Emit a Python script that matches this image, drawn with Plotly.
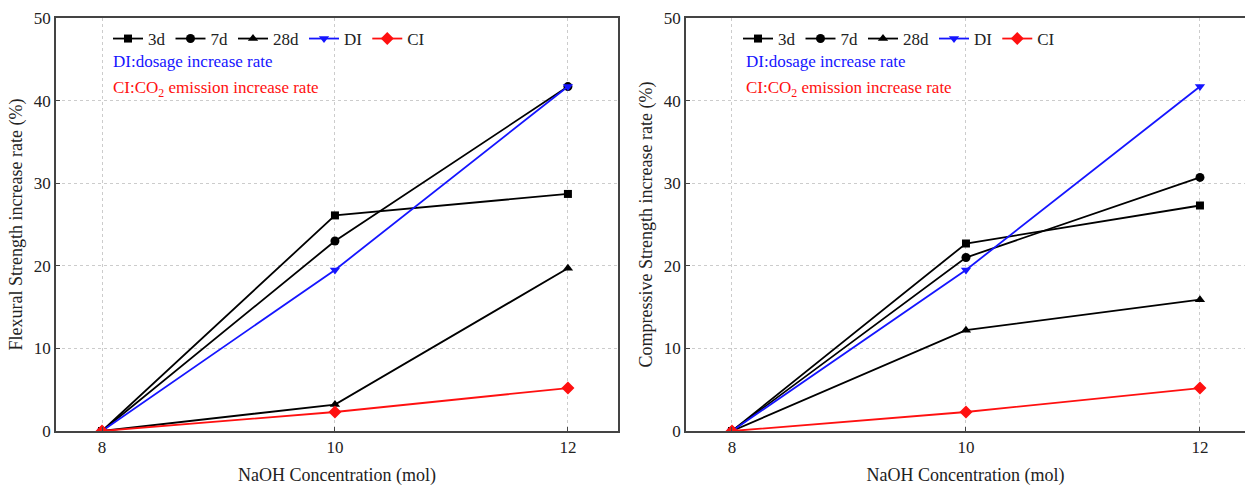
import plotly.graph_objects as go

naoh = [8, 10, 12]
series_names = ["3d", "7d", "28d", "DI", "CI"]

flex_3d = [0, 26.1, 28.7]
flex_7d = [0, 23.0, 41.7]
flex_28d = [0, 3.2, 19.7]
flex_di = [0, 19.5, 41.7]
flex_ci = [0, 2.3, 5.2]

comp_3d = [0, 22.7, 27.3]
comp_7d = [0, 21.0, 30.7]
comp_28d = [0, 12.2, 15.9]
comp_di = [0, 19.5, 41.7]
comp_ci = [0, 2.3, 5.2]

colors = ["black", "black", "black", "#1515ff", "#ff1010"]
symbols = ["square", "circle", "triangle-up", "triangle-down", "diamond"]
msizes = [8, 9, 9, 9, 10]

FONT = "Liberation Serif"

fig = go.Figure()

panels = [
    ("x", "y", "legend", [flex_3d, flex_7d, flex_28d, flex_di, flex_ci]),
    ("x2", "y2", "legend2", [comp_3d, comp_7d, comp_28d, comp_di, comp_ci]),
]
for xa, ya, lg, data in panels:
    for name, vals, c, s, ms in zip(series_names, data, colors, symbols, msizes):
        fig.add_trace(go.Scatter(
            x=naoh, y=vals, name=name, mode="lines+markers",
            line=dict(color=c, width=1.8),
            marker=dict(symbol=s, size=ms, color=c),
            xaxis=xa, yaxis=ya, legend=lg,
        ))

axis_common = dict(
    showline=True, linecolor="#444", linewidth=1.6, mirror=True,
    ticks="inside", ticklen=4, tickcolor="#444",
    showgrid=True, gridcolor="#cccccc", griddash="dot", gridwidth=1,
    zeroline=False, automargin=False,
    tickfont=dict(family=FONT, size=17, color="#222"),
    title_font=dict(family=FONT, size=18, color="#222"),
)

fig.update_layout(
    width=1245, height=486,
    margin=dict(l=0, r=0, t=0, b=0, autoexpand=False),
    paper_bgcolor="white", plot_bgcolor="white",
    font=dict(family=FONT, size=17, color="#222"),
    xaxis=dict(domain=[56/1245, 618/1245], range=[7.605, 12.43],
               tickvals=[8, 10, 12], title=dict(text="NaOH Concentration (mol)", standoff=16),
               anchor="y", **axis_common),
    yaxis=dict(domain=[1-431/486, 1-18/486], range=[0, 50], dtick=10,
               title=dict(text="Flexural Strength increase rate (%)", standoff=6),
               anchor="x", **axis_common),
    xaxis2=dict(domain=[686/1245, 1.0], range=[7.607, 12.385],
                tickvals=[8, 10, 12], title=dict(text="NaOH Concentration (mol)", standoff=16),
                anchor="y2", **axis_common),
    yaxis2=dict(domain=[1-431/486, 1-18/486], range=[0, 50], dtick=10,
                title=dict(text="Compressive Strength increase rate (%)", standoff=6),
                anchor="x2", **axis_common),
    legend=dict(orientation="h", x=108/1245, y=1-21/486, xanchor="left", yanchor="top",
                bgcolor="rgba(0,0,0,0)", font=dict(family=FONT, size=17, color="#222"),
                itemwidth=30, tracegroupgap=0),
    legend2=dict(orientation="h", x=738/1245, y=1-21/486, xanchor="left", yanchor="top",
                 bgcolor="rgba(0,0,0,0)", font=dict(family=FONT, size=17, color="#222"),
                 itemwidth=30, tracegroupgap=0),
)

for xref, yref in [("x domain", "y domain"), ("x2 domain", "y2 domain")]:
    xx = 0.097 if xref == "x domain" else 0.103
    fig.add_annotation(text="DI:dosage increase rate", xref=xref, yref=yref,
                       x=xx, y=1-44/413, xanchor="left", yanchor="middle", showarrow=False,
                       font=dict(family=FONT, size=17, color="#1515ff"))
    fig.add_annotation(text="CI:CO<sub>2</sub> emission increase rate", xref=xref, yref=yref,
                       x=xx, y=1-71/413, xanchor="left", yanchor="middle", showarrow=False,
                       font=dict(family=FONT, size=17, color="#ff1010"))

fig.write_html("out.html", config={"displayModeBar": False},
               post_script="document.body.style.margin='0px';")
